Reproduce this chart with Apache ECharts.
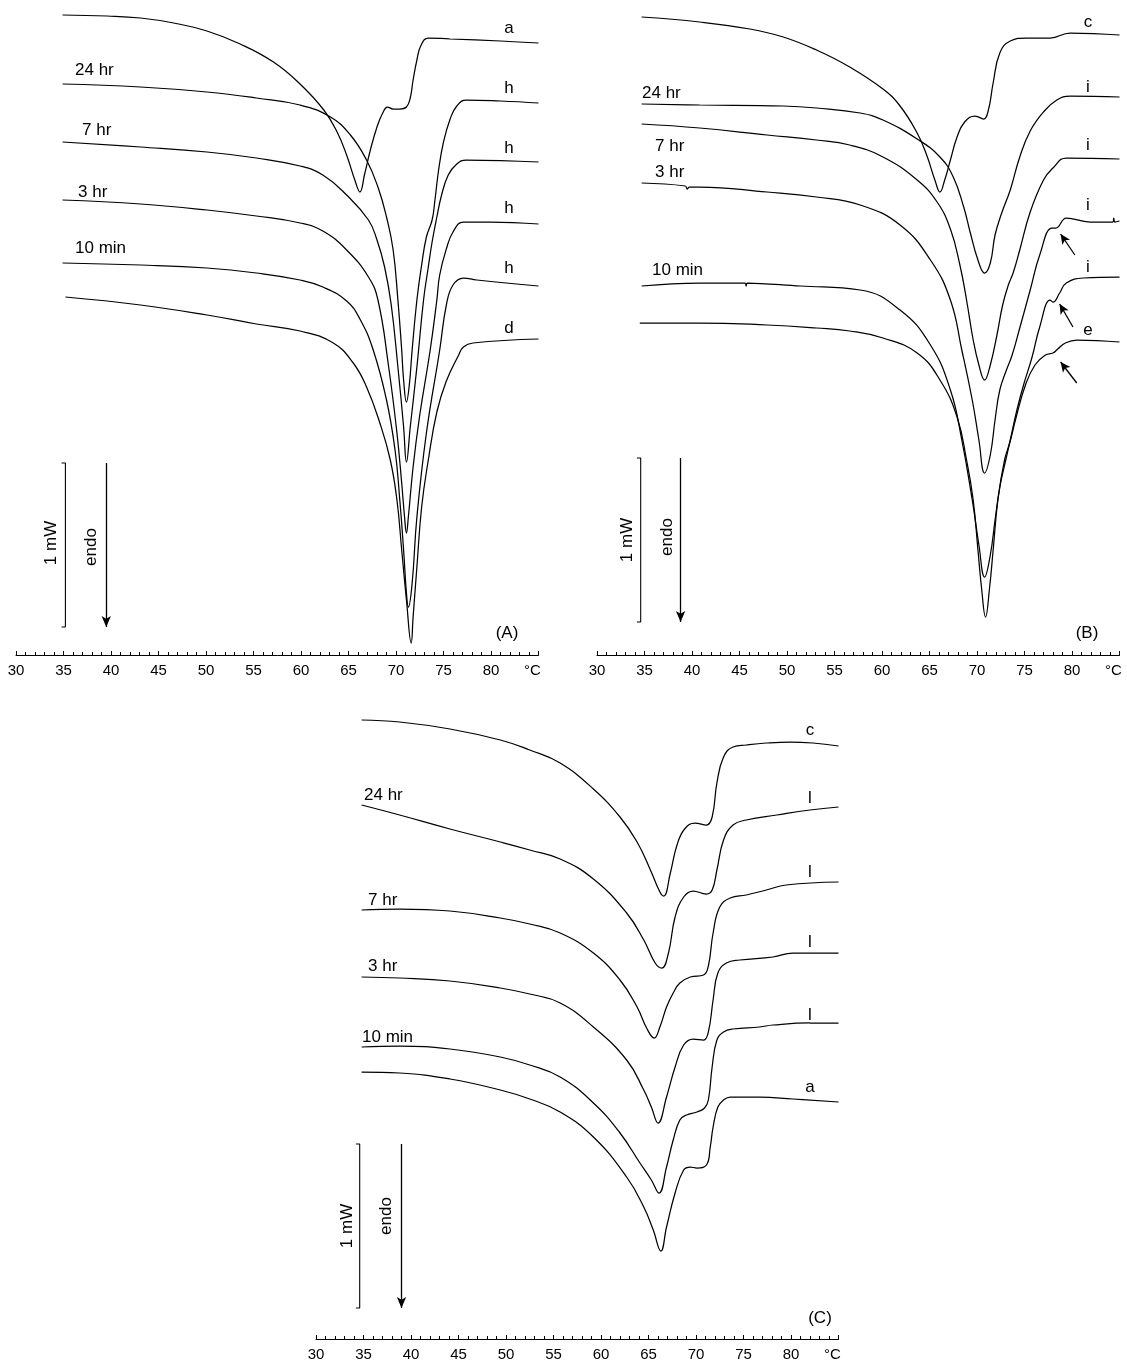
<!DOCTYPE html>
<html><head><meta charset="utf-8">
<script src="https://cdn.jsdelivr.net/npm/echarts@6/dist/echarts.min.js"></script>
<style>html,body{margin:0;padding:0;background:#fff}#chart{width:1127px;height:1363px}</style>
</head><body><div id="chart"></div>
<script>
// ---------- DATA: [temperature °C, heat flow (a.u., 164 a.u. = 1 mW, endo down)] ----------
// Panel A
const A_a   = [[34.9,640],[39.6,639],[43.1,637],[46.6,632],[50.1,624],[53.6,611],[57.1,593],[59.9,571],[62.4,545],[63.8,523],[64.8,500],[65.7,474],[66.2,463],[66.7,481],[67.3,505],[68.0,528],[68.6,542],[69.1,548],[69.7,546],[70.4,546],[71.1,548],[71.5,557],[71.8,575],[72.2,595],[72.6,609],[73.4,617],[75.7,616],[81.0,614],[85,612]];
const A_24h = [[34.9,571],[43.1,568],[50.1,563],[55.3,557],[59.9,550],[63.1,538],[65.2,520],[66.9,495],[68.1,468],[69.0,438],[69.7,405],[70.2,355],[70.6,305],[70.8,275],[71.1,253],[71.4,270],[71.7,305],[72.2,355],[72.7,390],[73.2,418],[73.8,435],[74.1,455],[74.5,486],[75.0,513],[75.7,536],[76.4,549],[77.4,555],[81.0,554],[85,552]];
const A_7h  = [[34.9,513],[43.1,508],[50.1,503],[55.3,497],[59.9,489],[62.3,480],[64.8,460],[67.1,435],[68.0,415],[68.8,388],[69.5,350],[70.2,288],[70.8,228],[71.1,193],[71.5,228],[72.2,288],[72.9,355],[73.4,388],[73.8,413],[74.3,438],[74.8,460],[75.5,480],[76.4,491],[77.4,495],[85,493]];
const A_3h  = [[34.9,455],[43.1,451],[50.1,445],[55.3,439],[59.9,432],[62.3,424],[64.8,405],[67.1,378],[68.1,355],[69.2,290],[70.1,222],[70.6,172],[70.9,138],[71.1,122],[71.3,138],[71.8,188],[72.5,240],[73.6,305],[74.3,355],[74.6,380],[75.3,406],[76.0,423],[77.1,433],[79.9,433],[85,431]];
const A_10m = [[34.9,392],[43.1,390],[50.1,387],[55.3,382],[59.9,375],[62.3,368],[64.8,354],[66.2,336],[67.6,305],[69.0,255],[69.9,205],[70.4,155],[70.8,105],[71.1,62],[71.3,48],[71.7,72],[72.2,138],[73.2,222],[74.6,305],[75.3,350],[76.0,370],[77.1,377],[78.5,375],[85,369]];
const A_d   = [[35.2,358],[43.1,350],[50.1,340],[55.3,331],[59.9,324],[63.4,312],[65.5,292],[66.9,268],[68.3,232],[69.4,195],[70.1,155],[70.6,105],[71.1,55],[71.6,12],[71.8,38],[72.2,88],[72.7,148],[73.4,195],[74.3,243],[75.3,274],[76.6,300],[77.1,308],[78.1,312],[85,316]];
// Panel B
const B_c   = [[34.7,638],[40.8,633],[46.1,626],[49.6,618],[53.1,605],[56.6,588],[60.1,566],[61.9,549],[63.7,522],[64.7,500],[65.6,474],[66.1,463],[66.6,475],[67.2,495],[67.9,518],[68.7,533],[69.8,539],[70.7,536],[71.2,545],[71.7,572],[72.4,602],[73.5,614],[75.2,617],[77.7,617],[79.8,622],[85,620]];
const B_24h = [[34.7,551],[40.8,550],[49.6,549],[53.1,547],[57.7,542],[60.1,535],[63.7,516],[66.1,498],[67.5,478],[68.6,448],[69.3,422],[70.1,395],[70.8,382],[71.4,392],[71.9,420],[72.6,442],[73.5,465],[74.5,498],[75.6,524],[77.0,543],[78.4,555],[79.8,559],[85,558]];
const B_7h  = [[34.7,531],[40.8,527],[47.9,520],[53.1,515],[56.6,510],[60.1,498],[63.7,475],[65.8,453],[67.2,426],[68.2,390],[68.9,355],[69.6,315],[70.2,290],[70.8,275],[71.4,290],[72.1,320],[72.7,350],[73.3,370],[73.8,382],[74.5,405],[75.6,443],[77.0,475],[78.0,487],[79.4,497],[85,496]];
const B_3h  = [[34.7,472],[39.3,469],[39.5,466],[39.7,468],[40.8,468],[47.9,463],[53.1,458],[57.7,450],[61.9,430],[65.1,395],[67.2,355],[68.4,305],[69.5,255],[70.2,215],[70.8,182],[71.4,200],[71.9,235],[72.4,265],[73.1,285],[73.7,300],[74.5,327],[75.6,365],[76.6,400],[77.9,427],[78.3,427],[79.4,437],[81.9,433],[84.3,433],[84.4,437],[84.5,433],[85,434]];
const B_10m = [[34.7,369],[40.8,372],[45.6,372],[45.7,369],[45.8,372],[51.4,369],[57.7,365],[61.9,345],[65.1,310],[67.2,265],[68.4,215],[69.5,155],[70.2,110],[70.8,78],[71.4,100],[71.9,135],[72.4,168],[73.1,198],[73.5,215],[74.2,245],[74.9,270],[75.8,298],[76.6,328],[77.7,355],[78.0,353],[78.7,362],[79.4,372],[81.2,377],[85,378]];
const B_e   = [[34.5,332],[40.8,332],[47.9,330],[53.1,327],[56.6,324],[60.1,317],[63.7,302],[66.1,275],[67.9,238],[68.9,195],[69.6,155],[70.1,105],[70.5,65],[70.9,38],[71.3,65],[71.7,105],[72.2,155],[72.9,195],[73.5,214],[74.1,237],[75.1,270],[76.1,290],[77.2,300],[78.0,302],[78.5,306],[79.3,312],[80.5,315],[85,313]];
// Panel C
const C_c   = [[34.8,619],[38.8,617],[44.1,610],[49.4,599],[52.5,589],[55.7,576],[59.2,550],[62.0,522],[63.8,497],[65.2,469],[66.2,447],[66.6,443],[67.3,466],[68.0,494],[68.8,510],[69.9,516],[71.1,514],[71.7,522],[72.2,556],[72.9,582],[73.9,592],[75.3,594],[77.4,596],[79.9,597],[82.3,596],[85,593]];
const C_24h = [[34.8,534],[38.8,524],[44.1,510],[49.4,497],[52.5,489],[55.7,480],[59.2,460],[62.7,426],[64.5,399],[65.7,376],[66.4,371],[67.1,386],[67.8,422],[68.7,442],[69.7,448],[71.1,445],[71.7,449],[72.2,469],[72.9,499],[73.9,514],[75.3,519],[78.5,524],[82.0,529],[85,532]];
const C_7h  = [[34.8,429],[38.8,430],[44.1,428],[49.4,421],[52.5,415],[55.7,406],[59.2,386],[62.0,359],[63.8,332],[64.8,311],[65.6,301],[66.2,312],[66.9,332],[67.6,346],[68.3,356],[69.4,362],[70.8,364],[71.3,373],[71.8,406],[72.5,432],[73.6,441],[75.3,444],[77.4,449],[79.5,454],[85,457]];
const C_3h  = [[34.8,362],[38.8,361],[44.1,358],[49.4,351],[52.5,345],[55.7,336],[59.2,312],[62.7,279],[64.5,249],[65.3,232],[66.0,216],[66.9,242],[67.8,272],[68.7,294],[69.7,300],[70.8,299],[71.3,307],[71.8,339],[72.3,366],[73.2,376],[74.6,379],[78.1,382],[80.2,386],[85,386]];
const C_10m = [[34.8,292],[38.8,293],[44.1,290],[49.4,282],[52.5,274],[55.7,262],[59.2,236],[62.0,206],[64.1,176],[65.3,159],[66.1,146],[66.9,172],[67.6,199],[68.3,219],[69.0,224],[70.1,227],[70.9,231],[71.3,239],[71.7,272],[72.2,299],[72.9,307],[73.9,310],[76.7,312],[78.1,314],[82.0,316],[85,316]];
const C_a   = [[34.8,267],[38.8,266],[44.1,260],[49.4,249],[52.5,240],[55.7,227],[59.2,202],[62.7,162],[64.5,132],[65.5,109],[66.3,88],[66.9,112],[67.8,146],[68.7,169],[69.4,172],[70.1,171],[71.1,174],[71.5,192],[71.8,212],[72.3,232],[72.9,239],[73.6,242],[76.7,242],[80.2,240],[85,237]];

// curve labels and time labels
const curveLabelsA = ['a','h','h','h','h','d'];
const curveLabelsB = ['c','i','i','i','i','e'];
const curveLabelsC = ['c','l','l','l','l','a'];
const timeLabels   = ['24 hr','7 hr','3 hr','10 min'];
const panelLabels  = ['(A)','(B)','(C)'];
const xTicks = {min:30, max:85, interval:5};
const scaleBarLabel = '1 mW';
const scaleBarMW = 164;   // a.u. per mW
const endoLabel = 'endo';
// arrows in panel B: [tail, head] in [°C, a.u.]
const B_arrows = [[[80.3,400],[78.8,421]],[[80.1,328],[78.7,351]],[[80.5,272],[78.8,293]]];

// ---------- CHART ----------
const FONT = '"Liberation Sans", Arial, Helvetica, sans-serif';
const chart = echarts.init(document.getElementById('chart'), null, {renderer:'canvas'});

const grids = [
  {left:16,  top:0,   width:522.5, height:655},
  {left:597, top:0,   width:522.5, height:655},
  {left:316, top:700, width:522.5, height:639}
];
const yMax = [655,655,639];

function xAxis(i){
  return {
    type:'value', gridIndex:i, min:xTicks.min, max:xTicks.max, interval:xTicks.interval,
    axisLine:{show:true, onZero:false, lineStyle:{color:'#000', width:1}},
    axisTick:{show:true, inside:true, length:4, lineStyle:{color:'#000', width:1}},
    minorTick:{show:true, splitNumber:5, length:3, lineStyle:{color:'#000', width:1}},
    splitLine:{show:false}, minorSplitLine:{show:false},
    axisLabel:{show:true, color:'#000', fontSize:15, fontFamily:FONT, margin:8,
      formatter: v => v===85 ? '{u|°C}' : String(v),
      rich:{u:{fontSize:15, fontFamily:FONT, color:'#000', padding:[0,12,0,0]}}}
  };
}
function yAxis(i){
  return {type:'value', gridIndex:i, min:0, max:yMax[i], show:false, splitLine:{show:false}};
}
function curve(data, i){
  return {type:'line', xAxisIndex:i, yAxisIndex:i, data:data, symbol:'none', smooth:0.45,
    lineStyle:{color:'#000', width:1.25}, silent:true, clip:true};
}
function scaleBar(i, xb, xArrow, lo){
  const hi = lo + scaleBarMW;
  return {type:'line', xAxisIndex:i, yAxisIndex:i, symbol:'none', silent:true,
    lineStyle:{color:'#000', width:1.1},
    data:[[xb-0.4,hi],[xb,hi],[xb,lo],[xb-0.4,lo]],
    markLine:{silent:true, symbol:['none','arrow'], symbolSize:[7,11], label:{show:false},
      lineStyle:{color:'#000', width:1.3, type:'solid'},
      data:[[{coord:[xArrow,hi]},{coord:[xArrow,lo]}]]}
  };
}

const series = [];
[A_a,A_24h,A_7h,A_3h,A_10m,A_d].forEach(d=>series.push(curve(d,0)));
[B_c,B_24h,B_7h,B_3h,B_10m,B_e].forEach(d=>series.push(curve(d,1)));
[C_c,C_24h,C_7h,C_3h,C_10m,C_a].forEach(d=>series.push(curve(d,2)));
series.push(scaleBar(0, 35.2, 39.5, 28));
series.push(scaleBar(1, 34.6, 38.8, 33));
series.push(scaleBar(2, 34.6, 39.0, 31));
series.push({type:'line', xAxisIndex:1, yAxisIndex:1, data:[], symbol:'none',
  markLine:{silent:true, symbol:['none','arrow'], symbolSize:[7,10], label:{show:false},
    lineStyle:{color:'#000', width:1.3, type:'solid'},
    data:B_arrows.map(a=>[{coord:a[0]},{coord:a[1]}])}});

function txt(t,x,y,opt){
  opt = opt||{};
  return {type:'text', x:x, y:y, rotation:opt.rot||0, silent:true,
    style:{text:t, fill:'#000', font:(opt.size||17)+'px '+FONT,
      align:opt.align||'center', textAlign:opt.align||'center',
      verticalAlign:'middle', textVerticalAlign:'middle'}};
}
const g = [];
[28,88,148,208,268,328].forEach((y,k)=>g.push(txt(curveLabelsA[k],509,y)));
[22,87,145,205,267,330].forEach((y,k)=>g.push(txt(curveLabelsB[k],1088,y)));
[730,798,872,942,1015,1087].forEach((y,k)=>g.push(txt(curveLabelsC[k],810,y)));
// time labels
[[75,70],[82,130],[78,192],[75,248]].forEach((p,k)=>g.push(txt(timeLabels[k],p[0],p[1],{align:'left'})));
[[642,93],[655,146],[655,172],[652,270]].forEach((p,k)=>g.push(txt(timeLabels[k],p[0],p[1],{align:'left'})));
[[364,795],[368,900],[368,966],[362,1037]].forEach((p,k)=>g.push(txt(timeLabels[k],p[0],p[1],{align:'left'})));
// scale bar texts
[[51,543,91,547],[627,540,667,537],[347,1226,386,1216]].forEach(p=>{
  g.push(txt(scaleBarLabel,p[0],p[1],{rot:Math.PI/2}));
  g.push(txt(endoLabel,p[2],p[3],{rot:Math.PI/2}));
});
// panel labels
g.push(txt(panelLabels[0],507,633,{size:17}));
g.push(txt(panelLabels[1],1087,633,{size:17}));
g.push(txt(panelLabels[2],820,1318,{size:17}));

chart.setOption({
  animation:false,
  backgroundColor:'#fff',
  grid:grids,
  xAxis:[xAxis(0),xAxis(1),xAxis(2)],
  yAxis:[yAxis(0),yAxis(1),yAxis(2)],
  series:series,
  graphic:g
});
</script></body></html>
